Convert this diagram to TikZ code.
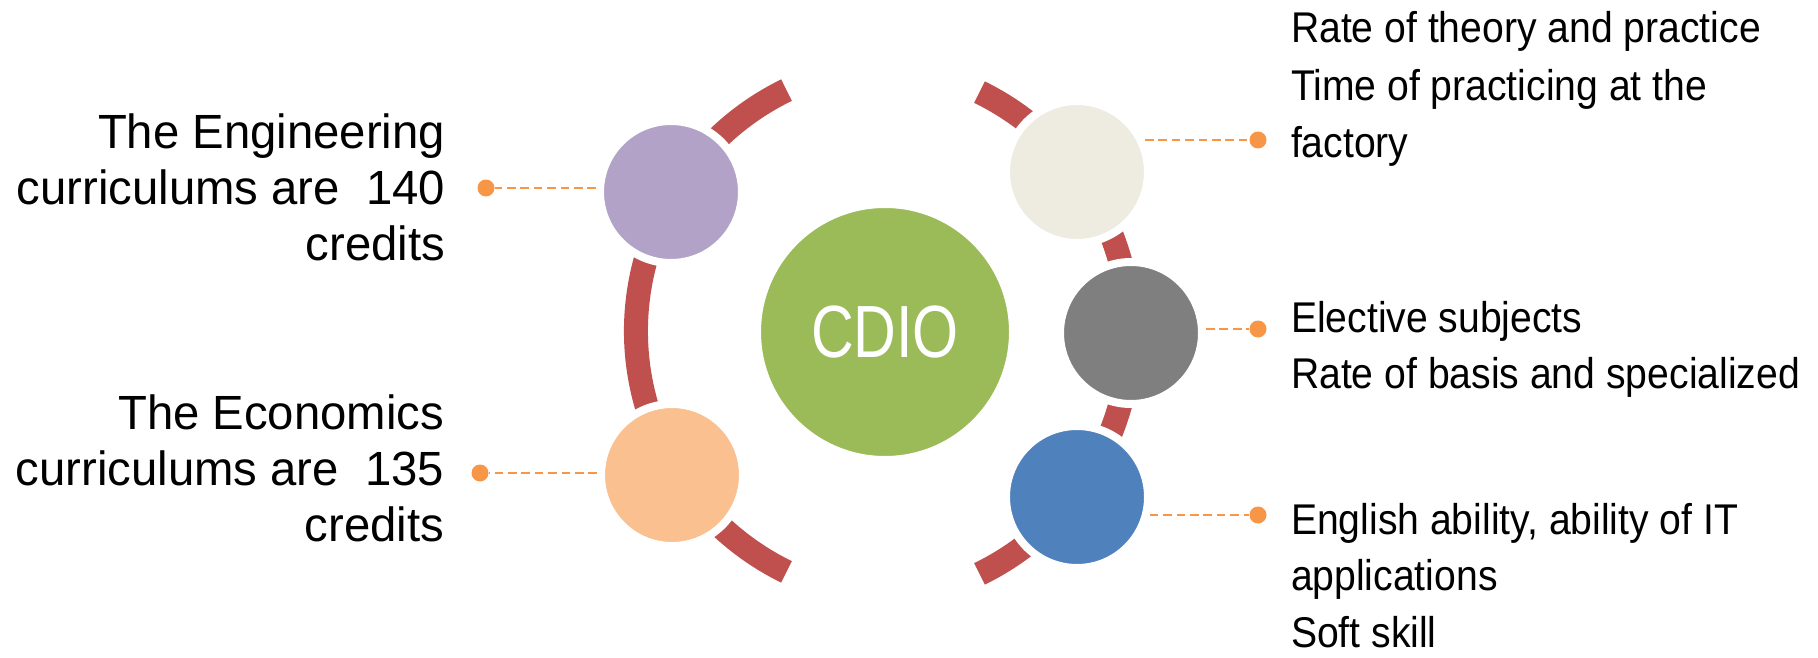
\documentclass[tikz,border=0pt]{standalone}
\usepackage{fontspec}
\setmainfont{Liberation Sans}
\usepackage{graphicx}
\definecolor{arcred}{HTML}{C0504D}
\definecolor{lavender}{HTML}{B3A2C7}
\definecolor{peach}{HTML}{FAC090}
\definecolor{olivegreen}{HTML}{9BBB59}
\definecolor{beige}{HTML}{EEECE1}
\definecolor{midgray}{HTML}{7F7F7F}
\definecolor{officeblue}{HTML}{4F81BD}
\definecolor{leadorange}{HTML}{F79646}
\begin{document}
\begin{tikzpicture}[x=1pt,y=1pt,
  arcline/.style={line width=24pt, draw=arcred},
  bubble/.style={circle, minimum size=142pt, inner sep=0pt, draw=white, line width=8pt},
  lead/.style={draw=leadorange, line width=2pt, dash pattern=on 8.7pt off 4.7pt},
  dot/.style={circle, fill=leadorange, minimum size=17pt, inner sep=0pt},
  lbl/.style={inner sep=0pt, outer sep=0pt, text=black}]
\useasboundingbox (0,0) rectangle (1818,-658);
% arcs
\coordinate (lc) at (904,-331);
\coordinate (rc) at (862,-333);
\draw[arcline] (lc) ++(116:268pt) arc[start angle=116, end angle=244, radius=268pt];
\draw[arcline] (rc) ++(-64:268pt) arc[start angle=-64, end angle=64, radius=268pt];
% centre
\node[bubble, fill=olivegreen, minimum size=256pt, text=white] (cdio) at (885,-332)
  {\fontsize{74}{80}\selectfont\scalebox{0.8}[1]{CDIO}};
% satellites
\node[bubble, fill=lavender] (eng) at (671,-192) {};
\node[bubble, fill=peach] (eco) at (672,-475) {};
\node[bubble, fill=beige] (theory) at (1077,-172) {};
\node[bubble, fill=midgray] (elect) at (1131,-333) {};
\node[bubble, fill=officeblue] (engl) at (1077,-497) {};
% dots
\node[dot] (d1) at (486,-188) {};
\node[dot] (d2) at (480,-473) {};
\node[dot] (d3) at (1258,-140) {};
\node[dot] (d4) at (1258,-329) {};
\node[dot] (d5) at (1258,-515) {};
% leaders
\draw[lead] (d1 -| eng.west) -- (d1);
\draw[lead] (d2 -| eco.west) -- (d2);
\draw[lead] (d3 -| theory.25) -- (d3);
\draw[lead] (d4 -| elect.east) -- (d4);
\draw[lead] (d5 -| engl.-14) -- (d5);
% texts
\node[lbl, anchor=base east] (t1) at (445,-149)
  {\fontsize{48}{56}\selectfont\scalebox{0.985}[1]{\begin{tabular}[t]{@{}r@{}}The Engineering\\curriculums are\ \ 140\\credits\end{tabular}}};
\node[lbl, anchor=base east] (t2) at (444,-429)
  {\fontsize{48}{56}\selectfont\scalebox{0.985}[1]{\begin{tabular}[t]{@{}r@{}}The Economics\\curriculums are\ \ 135\\credits\end{tabular}}};
\node[lbl, anchor=base west] (t3) at (1291,-43)
  {\fontsize{43}{57.4}\selectfont\scalebox{0.91}[1]{\begin{tabular}[t]{@{}l@{}}Rate of theory and practice\\Time of practicing at the\\factory\end{tabular}}};
\node[lbl, anchor=base west] (t4) at (1291,-332)
  {\fontsize{43}{56.5}\selectfont\scalebox{0.91}[1]{\begin{tabular}[t]{@{}l@{}}Elective subjects\\Rate of basis and specialized\end{tabular}}};
\node[lbl, anchor=base west] (t5) at (1291,-534)
  {\fontsize{43}{56.5}\selectfont\scalebox{0.91}[1]{\begin{tabular}[t]{@{}l@{}}English ability, ability of IT\\applications\\Soft skill\end{tabular}}};
\end{tikzpicture}
\end{document}
